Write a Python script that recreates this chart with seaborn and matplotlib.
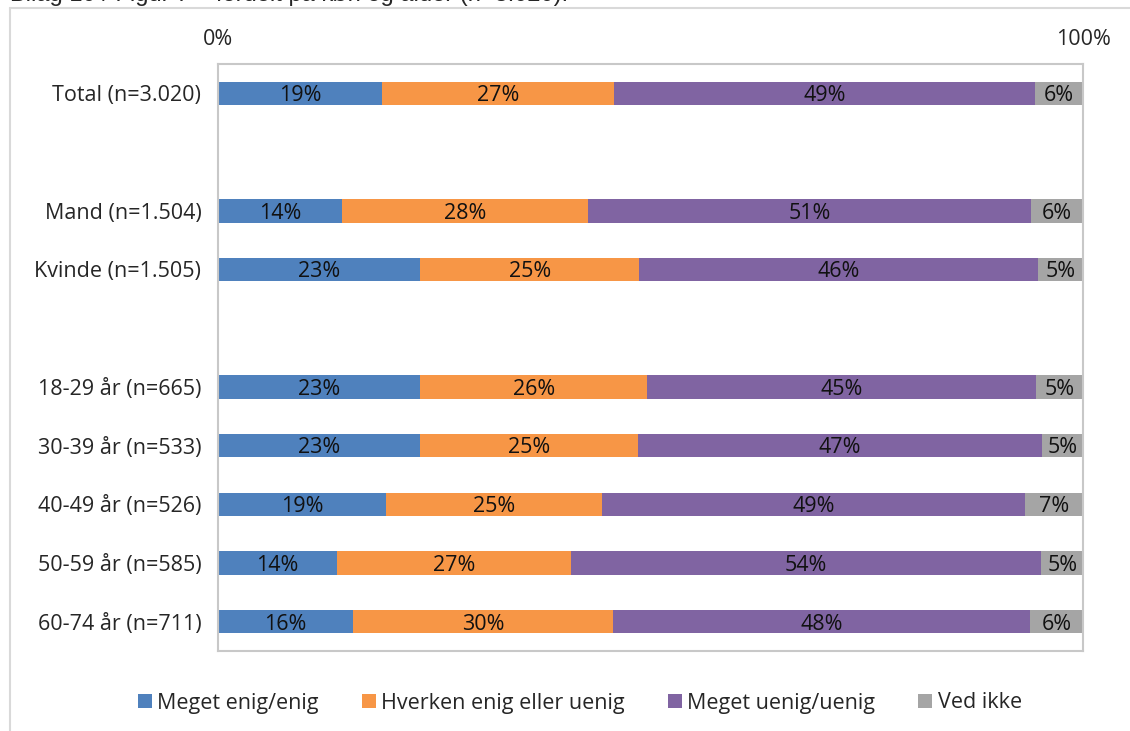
import numpy as np
import pandas as pd
import seaborn as sns
import matplotlib.pyplot as plt
from matplotlib.lines import Line2D
from matplotlib.patches import Patch

# --- data (share in %) ---
groups = ["Total (n=3.020)", "Mand (n=1.504)", "Kvinde (n=1.505)",
          "18-29 år (n=665)", "30-39 år (n=533)", "40-49 år (n=526)",
          "50-59 år (n=585)", "60-74 år (n=711)"]
enig = [19.0, 14.3, 23.4, 23.4, 23.4, 19.4, 13.8, 15.6]
hverken = [26.8, 28.5, 25.3, 26.2, 25.1, 25.0, 27.0, 30.1]
uenig = [48.7, 51.2, 46.1, 45.0, 46.8, 48.9, 54.4, 48.2]
ved_ikke = [5.5, 6.0, 5.2, 5.4, 4.7, 6.7, 4.8, 6.1]

series = ["Meget enig/enig", "Hverken enig eller uenig", "Meget uenig/uenig", "Ved ikke"]
colors = ["#4F81BD", "#F79646", "#8064A2", "#A5A5A5"]

# blank slots give the gaps between Total / køn / alder
order = [groups[0], " ", groups[1], groups[2], "  "] + groups[3:]

df = pd.DataFrame({"group": groups, series[0]: enig, series[1]: hverken,
                   series[2]: uenig, series[3]: ved_ikke})
vals = df[series].to_numpy()
cum = vals.cumsum(axis=1)

sns.set_style("white")
plt.rcParams["font.family"] = ["Open Sans", "DejaVu Sans"]
fs = 15.5

fig = plt.figure(figsize=(11.3, 7.31), dpi=100)
ax = fig.add_axes([0.1929, 0.1094, 0.7655, 0.803])

# stacked bars: draw cumulative totals back to front
for i in range(len(series) - 1, -1, -1):
    d = pd.DataFrame({"group": groups, "cum": cum[:, i]})
    sns.barplot(data=d, x="cum", y="group", order=order, color=colors[i],
                width=0.4, saturation=1, ax=ax, linewidth=0)

# segment labels
ypos = {g: order.index(g) for g in groups}
for r, g in enumerate(groups):
    left = 0
    for i in range(len(series)):
        ax.text(left + vals[r, i] / 2, ypos[g] + 0.04, f"{vals[r, i]:.0f}%",
                ha="center", va="center", fontsize=fs, color="#111111")
        left += vals[r, i]

ax.set_xlim(0, 100)
ax.set_ylim(len(order) - 0.5, -0.5)
ax.set_xlabel("")
ax.set_ylabel("")
ax.xaxis.tick_top()
ax.set_xticks([0, 100])
ax.set_xticklabels(["0%", "100%"])
ax.tick_params(axis="x", length=0, pad=10, labelsize=fs)
ax.tick_params(axis="y", length=0, pad=12, labelsize=fs)
for s in ax.spines.values():
    s.set_color("#C8C8C8")
    s.set_linewidth(1.5)

handles = [Patch(facecolor=c, edgecolor="none") for c in colors]
fig.legend(handles, series, loc="center", bbox_to_anchor=(0.513, 1 - 703 / 731),
           ncol=4, frameon=False, fontsize=fs, handlelength=0.65,
           handleheight=0.65, handletextpad=0.25, columnspacing=2.0)

# outer chart frame (partly visible) and the cut-off heading
fig.add_artist(Line2D([10 / 1130, 1], [1 - 8 / 731] * 2, color="#D9D9D9", lw=1.5))
fig.add_artist(Line2D([10 / 1130] * 2, [0, 1 - 8 / 731], color="#D9D9D9", lw=1.5))
fig.text(10 / 1130, 1 - 1 / 731, "Bilag 10 / Figur 7 \u2013 fordelt på køn og alder (n=3.020).",
         family="Liberation Sans", fontsize=17, va="baseline", ha="left")

fig.savefig("out.png", dpi=100)
